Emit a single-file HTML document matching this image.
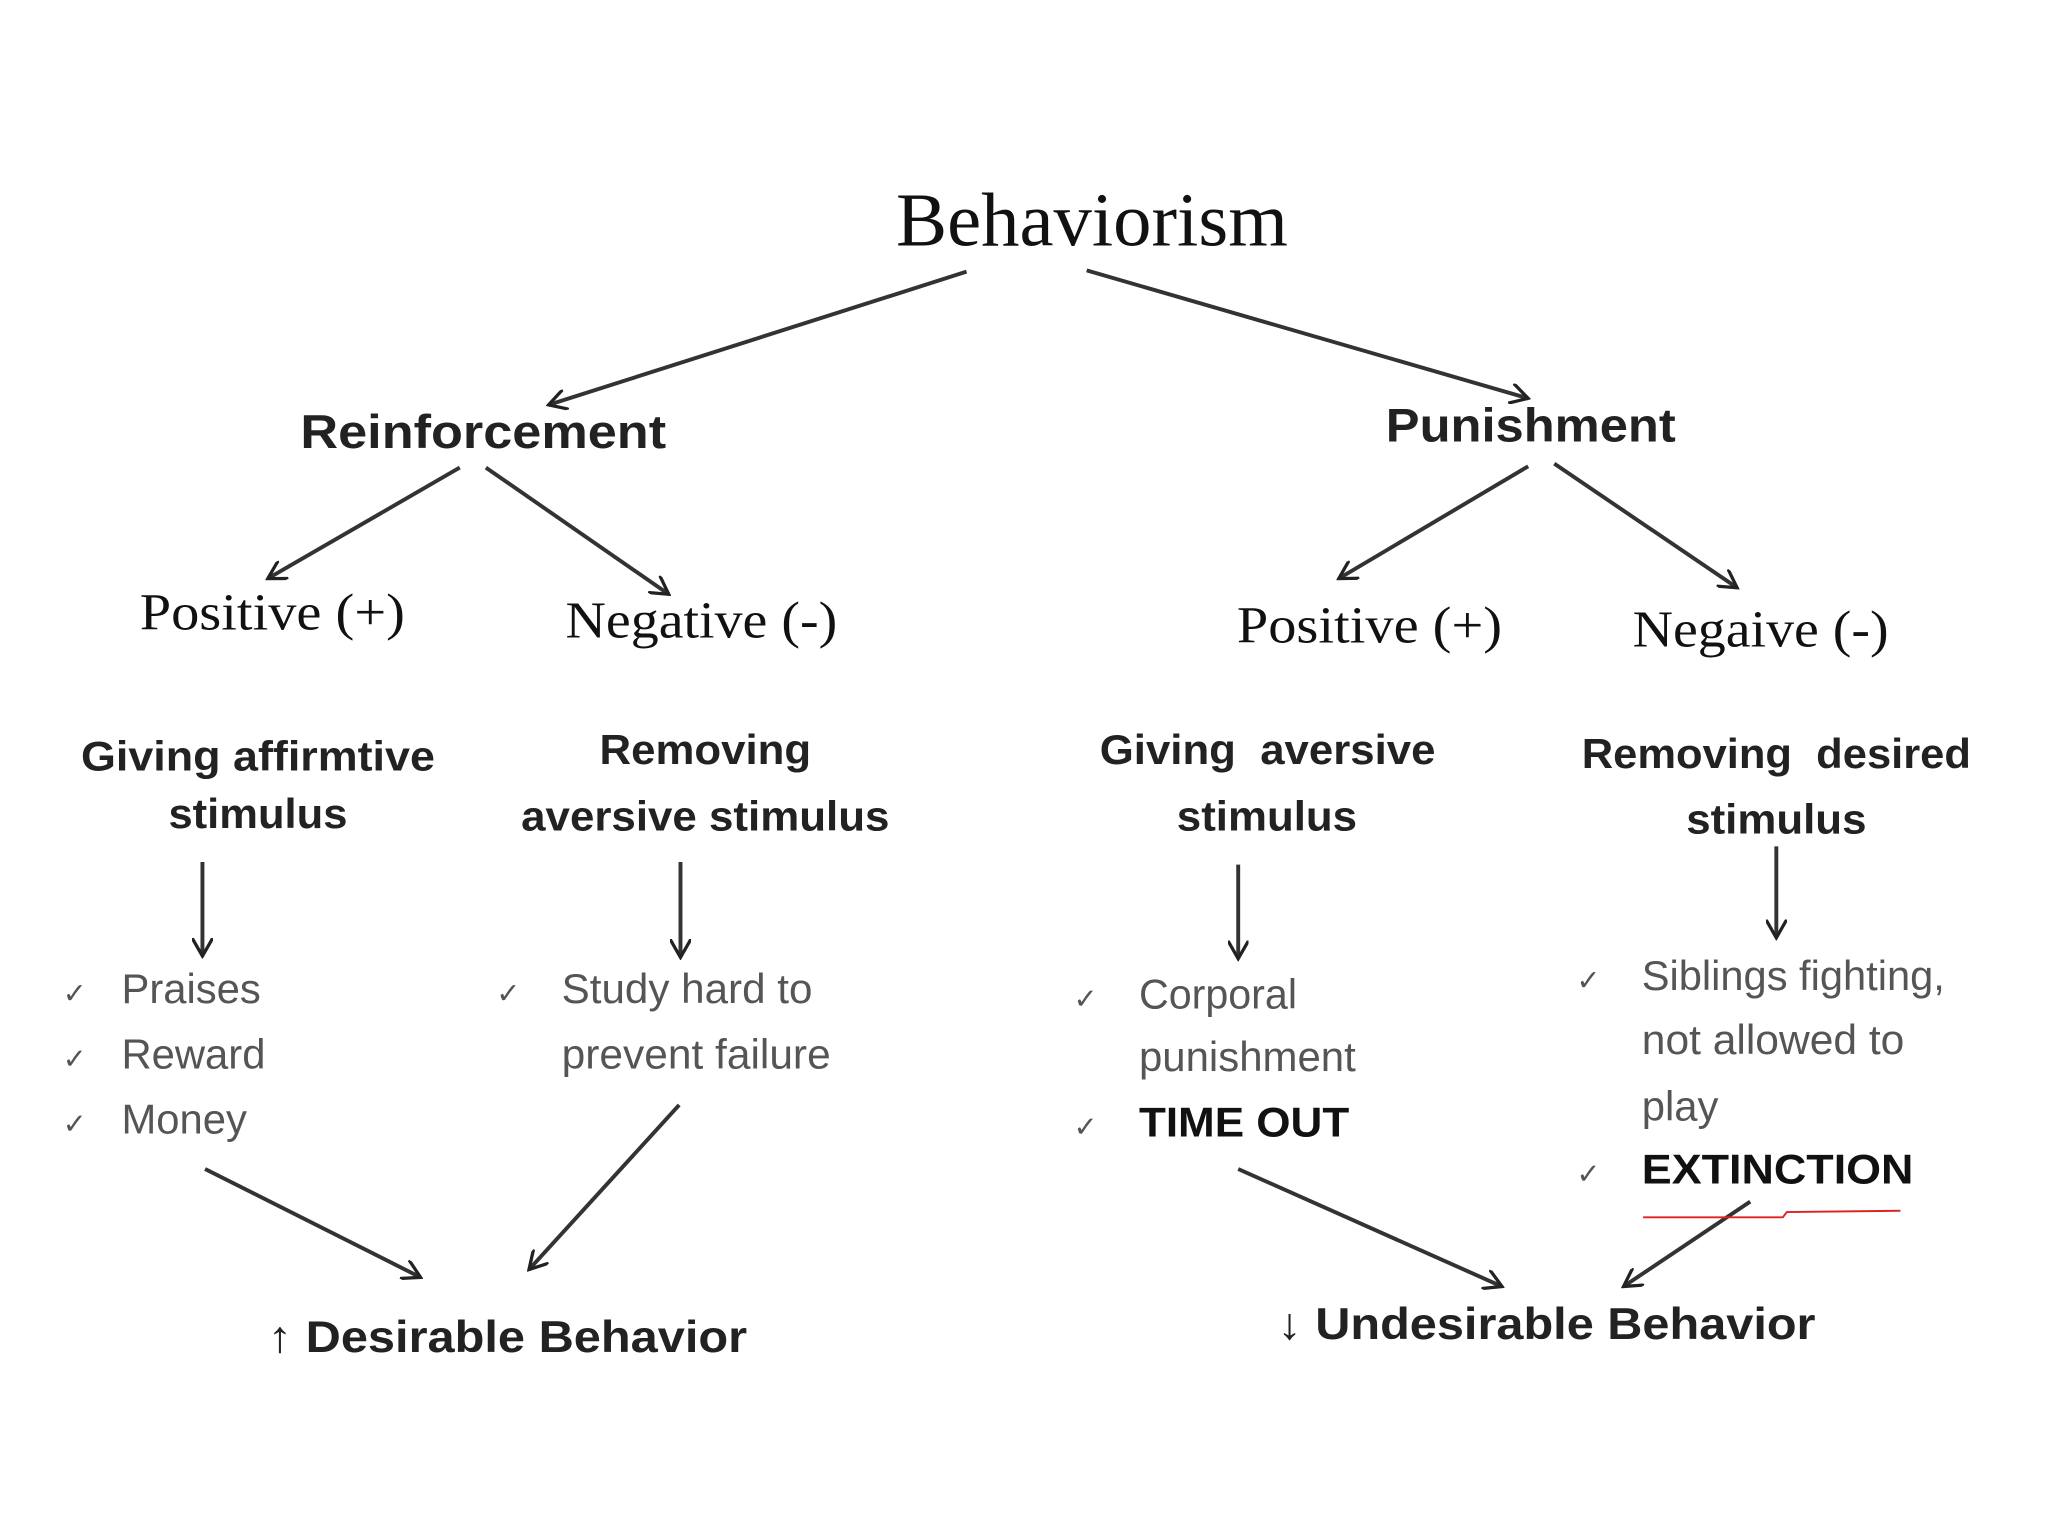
<!DOCTYPE html>
<html><head><meta charset="utf-8"><style>
html,body{margin:0;padding:0;background:#fff;}
svg{display:block;}
.s{font-family:"Liberation Serif",serif;fill:#111;}
.b{font-family:"Liberation Sans",sans-serif;font-weight:bold;fill:#222;}
.g{font-family:"Liberation Sans",sans-serif;fill:#555;}
</style></head><body>
<svg width="2048" height="1536" viewBox="0 0 1568 1176" preserveAspectRatio="none" xmlns="http://www.w3.org/2000/svg">
<defs>
<marker id="c" markerWidth="16" markerHeight="16" refX="14" refY="8" orient="auto" markerUnits="userSpaceOnUse">
<path d="M0,0 L14,8 L0,16" fill="none" stroke="#222" stroke-width="2.5"/>
</marker>
</defs>
<rect width="1568" height="1176" fill="#fff"/>
<g stroke="#333" stroke-width="3" fill="none">
<line x1="740" y1="208" x2="420" y2="310" marker-end="url(#c)"/>
<line x1="832" y1="207" x2="1170" y2="305" marker-end="url(#c)"/>
<line x1="352" y1="358" x2="205" y2="443" marker-end="url(#c)"/>
<line x1="372" y1="358" x2="512" y2="455" marker-end="url(#c)"/>
<line x1="1170" y1="357" x2="1025" y2="443" marker-end="url(#c)"/>
<line x1="1190" y1="355" x2="1330" y2="450" marker-end="url(#c)"/>
<line x1="155" y1="660" x2="155" y2="732" marker-end="url(#c)"/>
<line x1="521" y1="660" x2="521" y2="733" marker-end="url(#c)"/>
<line x1="948" y1="662" x2="948" y2="734" marker-end="url(#c)"/>
<line x1="1360" y1="648" x2="1360" y2="718" marker-end="url(#c)"/>
<line x1="157" y1="895" x2="322" y2="978" marker-end="url(#c)"/>
<line x1="520" y1="846" x2="405" y2="972" marker-end="url(#c)"/>
<line x1="948" y1="895" x2="1150" y2="985" marker-end="url(#c)"/>
<line x1="1340" y1="920" x2="1243" y2="985" marker-end="url(#c)"/>
</g>
<path d="M1258,932 L1365,932 L1368,928 L1455,927" stroke="#d22" stroke-width="1.5" fill="none"/>
<text class="s" x="686" y="188" font-size="58" textLength="300" lengthAdjust="spacingAndGlyphs">Behaviorism</text>
<text class="b" x="230" y="343" font-size="36" textLength="280" lengthAdjust="spacingAndGlyphs">Reinforcement</text>
<text class="b" x="1061" y="338" font-size="36" textLength="222" lengthAdjust="spacingAndGlyphs">Punishment</text>
<text class="s" x="107" y="482" font-size="40" textLength="203" lengthAdjust="spacingAndGlyphs">Positive (+)</text>
<text class="s" x="433" y="488" font-size="40" textLength="208" lengthAdjust="spacingAndGlyphs">Negative (-)</text>
<text class="s" x="947" y="492" font-size="40" textLength="203" lengthAdjust="spacingAndGlyphs">Positive (+)</text>
<text class="s" x="1250" y="495" font-size="40" textLength="196" lengthAdjust="spacingAndGlyphs">Negaive (-)</text>
<g class="b" font-size="32" lengthAdjust="spacingAndGlyphs">
<text x="62" y="590" textLength="271" lengthAdjust="spacingAndGlyphs">Giving affirmtive</text>
<text x="129" y="634" textLength="137" lengthAdjust="spacingAndGlyphs">stimulus</text>
<text x="459" y="585" textLength="162" lengthAdjust="spacingAndGlyphs">Removing</text>
<text x="399" y="636" textLength="282" lengthAdjust="spacingAndGlyphs">aversive stimulus</text>
<text x="842" y="585" textLength="257" lengthAdjust="spacingAndGlyphs" xml:space="preserve">Giving  aversive</text>
<text x="901" y="636" textLength="138" lengthAdjust="spacingAndGlyphs">stimulus</text>
<text x="1211" y="588" textLength="298" lengthAdjust="spacingAndGlyphs" xml:space="preserve">Removing  desired</text>
<text x="1291" y="638" textLength="138" lengthAdjust="spacingAndGlyphs">stimulus</text>
</g>
<g class="g" font-size="32">
<text x="48" y="768" font-size="22">✓</text><text x="93" y="768">Praises</text>
<text x="48" y="818" font-size="22">✓</text><text x="93" y="818">Reward</text>
<text x="48" y="868" font-size="22">✓</text><text x="93" y="868">Money</text>
<text x="380" y="768" font-size="22">✓</text><text x="430" y="768" textLength="192" lengthAdjust="spacingAndGlyphs">Study hard to</text>
<text x="430" y="818" textLength="206" lengthAdjust="spacingAndGlyphs">prevent failure</text>
<text x="822" y="772" font-size="22">✓</text><text x="872" y="772" textLength="121" lengthAdjust="spacingAndGlyphs">Corporal</text>
<text x="872" y="820" textLength="166" lengthAdjust="spacingAndGlyphs">punishment</text>
<text x="822" y="870" font-size="22">✓</text><text x="872" y="870" class="b" font-size="32" style="fill:#111" textLength="161" lengthAdjust="spacingAndGlyphs">TIME OUT</text>
<text x="1207" y="758" font-size="22">✓</text><text x="1257" y="758" textLength="232" lengthAdjust="spacingAndGlyphs">Siblings fighting,</text>
<text x="1257" y="807" textLength="201" lengthAdjust="spacingAndGlyphs">not allowed to</text>
<text x="1257" y="858">play</text>
<text x="1207" y="906" font-size="22">✓</text><text x="1257" y="906" class="b" font-size="32" style="fill:#111" textLength="208" lengthAdjust="spacingAndGlyphs">EXTINCTION</text>
</g>
<text class="b" x="205" y="1035" font-size="34" textLength="367" lengthAdjust="spacingAndGlyphs">↑ Desirable Behavior</text>
<text class="b" x="978" y="1025" font-size="34" textLength="412" lengthAdjust="spacingAndGlyphs">↓ Undesirable Behavior</text>
</svg>
</body></html>
